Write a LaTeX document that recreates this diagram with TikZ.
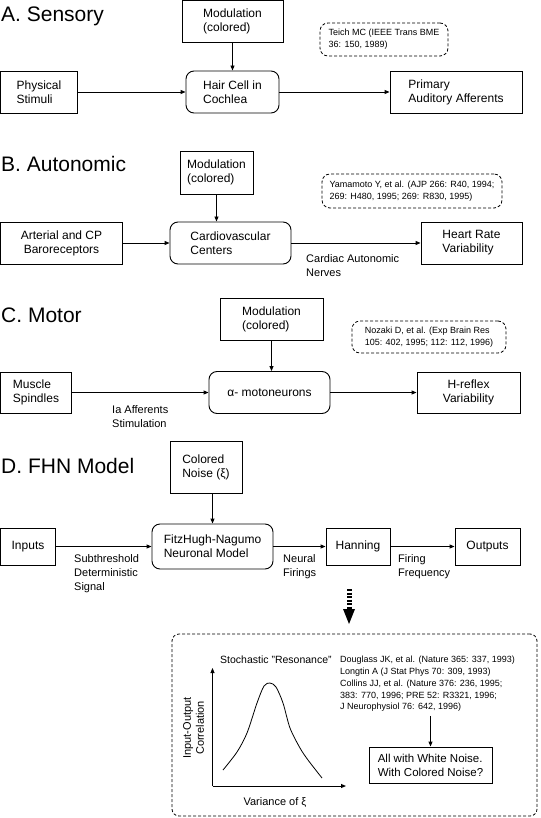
\documentclass[tikz,border=0pt]{standalone}
\usepackage{fontspec}
\setmainfont{Liberation Sans}
\usetikzlibrary{arrows.meta}
\begin{document}
\begin{tikzpicture}[x=1pt,y=-1pt,
  blk/.style={draw, line width=0.9pt, inner sep=0pt, font=\fontsize{12}{14}\selectfont, align=left},
  rnd/.style={blk, rounded corners=8pt},
  cite/.style={draw, line width=0.8pt, dash pattern=on 3pt off 2pt, rounded corners=8pt, inner sep=0pt, font=\fontsize{9}{12}\selectfont, align=left},
  lbl/.style={font=\fontsize{11}{14}\selectfont, align=left, inner sep=0pt, anchor=north west},
  ttl/.style={font=\fontsize{21}{24}\selectfont, inner sep=0pt, anchor=base west},
  arr/.style={-{Triangle[length=5pt,width=4pt]}, line width=0.9pt},
  sz/.style 2 args={minimum width=#1pt, minimum height=#2pt}]
\useasboundingbox (0,0) rectangle (540,818);
\fill[white] (0,0) rectangle (540,818);

% A. Sensory
\node[ttl] (tA) at (1,22) {A. Sensory};
\node[blk, sz={101}{42}] (modA) at (232.5,21.5) {Modulation\\(colored)};
\node[cite, sz={128}{33}] (cA) at (384,39.5) {Teich MC (IEEE Trans BME\\36: 150, 1989)};
\node[blk, sz={77}{42}] (pA) at (39,92) {Physical\\Stimuli};
\node[rnd, sz={93}{42}] (hA) at (232.5,92) {Hair Cell in\\Cochlea};
\node[blk, sz={132}{42}] (aA) at (456,92) {Primary\\Auditory Afferents};
\draw[arr] (pA) -- (hA);
\draw[arr] (hA) -- (aA);
\draw[arr] (modA) -- (hA);

% B. Autonomic
\node[ttl] (tB) at (1,172) {B. Autonomic};
\node[blk, sz={73}{43}] (modB) at (216.5,172.5) {Modulation\\(colored)};
\node[cite, sz={180}{34}] (cB) at (412,191) {Yamamoto Y, et al. (AJP 266: R40, 1994;\\269: H480, 1995; 269: R830, 1995)};
\node[blk, sz={122}{42}, align=center] (rB) at (61.5,243) {Arterial and CP\\Baroreceptors};
\node[rnd, sz={121}{42}] (cvB) at (230.5,243) {Cardiovascular\\Centers};
\node[blk, sz={101}{42}] (hB) at (471.5,243) {Heart Rate\\Variability};
\draw[arr] (rB) -- (cvB);
\draw[arr] (cvB) -- (hB);
\draw[arr] (modB.south) -- (modB.south |- cvB.north);
\node[lbl] (lB) at (306,254) {Cardiac Autonomic\\Nerves};

% C. Motor
\node[ttl] (tC) at (1,322) {C. Motor};
\node[blk, sz={103}{42}] (modC) at (271.5,319) {Modulation\\(colored)};
\node[cite, sz={154}{32}] (cC) at (429,337) {Nozaki D, et al. (Exp Brain Res\\105: 402, 1995; 112: 112, 1996)};
\node[blk, sz={71}{41}] (mC) at (36,392.5) {Muscle\\Spindles};
\node[rnd, sz={121}{42}] (amC) at (269.5,392.5) {α- motoneurons};
\node[blk, sz={103}{41}, align=center] (hC) at (468.5,392.5) {H-reflex\\Variability};
\draw[arr] (mC) -- (amC);
\draw[arr] (amC) -- (hC);
\draw[arr] (modC.south) -- (modC.south |- amC.north);
\node[lbl] (lC) at (112,405) {Ia Afferents\\Stimulation};

% D. FHN Model
\node[ttl] (tD) at (1,473) {D. FHN Model};
\node[blk, sz={72}{52}] (cnD) at (206,467) {Colored\\Noise (ξ)};
\node[blk, sz={55}{37}] (iD) at (28,546.5) {Inputs};
\node[rnd, sz={121}{45}] (fD) at (212.5,546.5) {FitzHugh-Nagumo\\Neuronal Model};
\node[blk, sz={64}{37}] (hD) at (358,546.5) {Hanning};
\node[blk, sz={65}{37}] (oD) at (487.5,546.5) {Outputs};
\draw[arr] (iD) -- (fD);
\draw[arr] (fD) -- (hD);
\draw[arr] (hD) -- (oD);
\draw[arr] (fD.north |- cnD.south) -- (fD.north);
\node[lbl] (lD1) at (74,554) {Subthreshold\\Deterministic\\Signal};
\node[lbl] (lD2) at (283,554) {Neural\\Firings};
\node[lbl] (lD3) at (398,554) {Firing\\Frequency};

% big arrow
\coordinate (baTop) at (349,589);
\coordinate (baMid) at (349,609);
\coordinate (baTip) at (349,624);
\draw[line width=5pt, dash pattern=on 2.2pt off 1.3pt] (baTop) -- (baMid);
\fill ([xshift=-6pt]baMid) -- ([xshift=6pt]baMid) -- (baTip) -- cycle;

% stochastic resonance box
\node[draw, line width=0.8pt, dash pattern=on 3pt off 2pt, rounded corners=7pt, sz={365}{182}] (srBox) at (354.5,725) {};
\node[font=\fontsize{10.5}{12}\selectfont, anchor=base west, inner sep=0pt] (srT) at (220,663) {Stochastic "Resonance"};
\coordinate (org) at (212.5,786);
\coordinate (yEnd) at (212.5,668);
\coordinate (xEnd) at (346,786);
\draw[arr] (org) -- (yEnd);
\draw[arr] (org) -- (xEnd);
\draw[line width=0.8pt] plot[smooth] coordinates {(223,770) (237,752) (247,733) (257,703) (264,686) (270,683) (276,687) (283,703) (290,728) (300,748) (308,760) (322,778)};
\node[font=\fontsize{11}{13}\selectfont, anchor=base, inner sep=0pt] (vx) at (275,805) {Variance of ξ};
\node[font=\fontsize{11}{13}\selectfont, rotate=90, align=center, inner sep=0pt] (yl) at (193.5,728) {Input-Output\\Correlation};
\node[font=\fontsize{9}{11.8}\selectfont, align=left, anchor=north west, inner sep=0pt] (refs) at (340,656) {Douglass JK, et al. (Nature 365: 337, 1993)\\Longtin A (J Stat Phys 70: 309, 1993)\\Collins JJ, et al. (Nature 376: 236, 1995;\\383: 770, 1996; PRE 52: R3321, 1996;\\J Neurophysiol 76: 642, 1996)};
\node[blk, font=\fontsize{11.5}{14}\selectfont, sz={123}{36}] (awn) at (430.5,765) {All with White Noise.\\With Colored Noise?};
\draw[arr] ([yshift=-4pt]refs.south -| awn.north) -- (awn.north);
\end{tikzpicture}
\end{document}
